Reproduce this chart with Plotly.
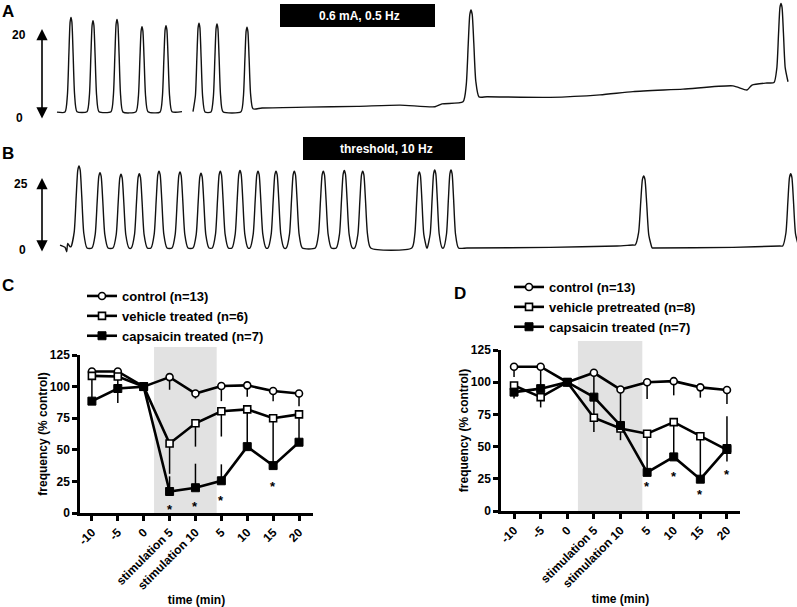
import plotly.graph_objects as go

W, H = 797, 607

# ---------------- panel A: contractions at 0.6 mA, 0.5 Hz ----------------
# time axis in s, force in arbitrary units (scale bar 0-20)
a_peak_t = [14, 36, 60, 85, 109, 142, 160, 190, 414, 724]
a_peak_top = [24.3, 23.5, 23.8, 22.0, 22.3, 22.9, 22.7, 21.9, 26.1, 27.7]
a_peak_pre = [1.2, 1.3, 1.3, 1.3, 1.2, 1.3, 1.2, 1.3, 3.7, 8.4]
a_peak_post = [1.3, 1.3, 1.2, 1.3, 1.3, 1.2, 1.3, 2.0, 4.9, 8.6]
a_peak_hw = [6, 6, 6, 6, 6, 6, 6, 6, 8, 7]
a_base_t = [0, 125, 205, 250, 300, 343, 378, 385, 430, 493, 543, 576, 626, 676, 690, 695, 710]
a_base_v = [1.2, 1.3, 2.2, 2.4, 2.6, 2.9, 2.5, 3.2, 4.95, 4.8, 5.4, 6.2, 6.8, 7.6, 6.6, 7.8, 8.3]
a_gaps = [135]

# ---------------- panel B: threshold, 10 Hz ----------------
b_peak_t = [22, 43, 64, 82.3, 102, 123, 144, 163.3, 183, 201, 219, 237.3, 266.3, 287.3, 305.7,
            362.3, 377.7, 394, 586.7, 733.7]
b_peak_top = [30.6, 28.1, 27.5, 27.7, 28.7, 28.4, 27.9, 28.7, 28.9, 28.7, 28.7, 28.7, 28.7, 28.9, 28.7,
              28.4, 29.1, 29.1, 26.9, 27.7]
b_peak_pre = [0.5, 0, 0, 0, 0, 0, 0, 0, 0, 0, 0, 0, 0, 0, 0, 0, 0, 0, 1.1, 0.75]
b_peak_post = [0, 0, 0, 0, 0, 0, 0, 0, 0, 0, 0, 0, 0, 0, 0, 0, 0, 0, 0, 0.5]
b_peak_hw = [8] * 15 + [7.5, 7.5, 7.5, 8.5, 8]
b_base_t = [3, 8, 9.7, 10.7, 13, 410, 493, 560, 576, 596, 676, 723]
b_base_v = [1.1, 0.25, -1.4, 1.75, 0.5, 0, 0.25, 0.75, 1.1, 0, 0.25, 0.75]
b_gaps = []

# ---------------- panels C / D: frequency (% control) ----------------
time_labels = ["-10", "-5", "0", "stimulation 5", "stimulation 10", "5", "10", "15", "20"]
stim_start, stim_end = 2.4, 4.82

c_ctrl = [112, 112, 100, 107.5, 94.5, 100.5, 101, 96.5, 94.5]
c_ctrl_lo = [4, 3, 0, 10, 4, 12, 9, 8, 10]
c_veh = [108.5, 108, 100, 55, 71, 80.5, 82, 75, 78]
c_veh_lo = [20, 21, 0, 24, 18.5, 20, 30, 37, 22]
c_cap = [88.5, 98.5, 100, 17, 20, 25.5, 52.5, 37.5, 56]
c_cap_hi = [0, 0, 0, 12, 19, 13, 0, 0, 0]
c_sig = [3, 4, 5, 7]
c_sig_y = [5.5, 7.9, 11.9, 23.7]

d_ctrl = [112, 112, 100, 107.3, 94.3, 100, 100.8, 96, 94]
d_ctrl_lo = [8, 17, 0, 35, 30, 13, 11, 8, 11]
d_veh = [97.4, 88.4, 100, 72.4, 64, 60, 69, 58, 47.5]
d_veh_lo = [10, 8, 0, 11, 9, 29, 27, 33, 9]
d_cap = [92.3, 95, 100, 88.4, 66.4, 30, 42, 24.7, 48.5]
d_cap_hi = [0, 0, 0, 0, 0, 0, 0, 0, 25]
d_sig = [5, 6, 7, 8]
d_sig_y = [21.7, 29.5, 15.5, 30.3]

c_names = ["control (n=13)", "vehicle treated (n=6)", "capsaicin treated (n=7)"]
d_names = ["control (n=13)", "vehicle pretreated (n=8)", "capsaicin treated (n=7)"]

FONT = "Liberation Sans, Arial, sans-serif"

# peak outline template (relative to half width, fraction of amplitude)
REL = [-1.0, -0.6, -0.35, -0.15, 0, 0.15, 0.35, 0.6, 1.0]
FRAC = [0, 0.18, 0.62, 0.95, 1, 0.95, 0.62, 0.18, 0]


def build_trace(peak_t, peak_top, pre, post, hw, base_t, base_v, gaps):
    pts = list(zip(base_t, base_v))
    for t, top, b0, b1, w in zip(peak_t, peak_top, pre, post, hw):
        for r, f in zip(REL, FRAC):
            base = b0 if r <= 0 else b1
            pts.append((t + r * w, base + f * (top - base)))
    pts.sort()
    xs, ys = [], []
    gaps = sorted(gaps)
    for t, v in pts:
        while gaps and t > gaps[0]:
            xs.append(None)
            ys.append(None)
            gaps.pop(0)
        xs.append(t)
        ys.append(v)
    return xs, ys


fig = go.Figure()

ax_, ay_ = build_trace(a_peak_t, a_peak_top, a_peak_pre, a_peak_post, a_peak_hw, a_base_t, a_base_v, a_gaps)
bx_, by_ = build_trace(b_peak_t, b_peak_top, b_peak_pre, b_peak_post, b_peak_hw, b_base_t, b_base_v, b_gaps)

rec_line = dict(color="#111111", width=1.4, shape="spline", smoothing=0.6)
fig.add_trace(go.Scatter(x=ax_, y=ay_, mode="lines", line=rec_line, xaxis="x", yaxis="y",
                         showlegend=False, hoverinfo="skip", cliponaxis=False))
fig.add_trace(go.Scatter(x=bx_, y=by_, mode="lines", line=rec_line, xaxis="x2", yaxis="y2",
                         showlegend=False, hoverinfo="skip", cliponaxis=False))

cats = list(range(len(time_labels)))
styles = [
    dict(symbol="circle", size=7, color="white", line=dict(color="black", width=1.6)),
    dict(symbol="square", size=7, color="white", line=dict(color="black", width=1.6)),
    dict(symbol="square", size=8, color="black", line=dict(color="black", width=1)),
]


def add_panel(names, series, xa, ya, leg):
    for name, (vals, plus, minus), mk in zip(names, series, styles):
        fig.add_trace(go.Scatter(
            x=cats, y=vals, mode="lines+markers", name=name,
            line=dict(color="black", width=2.6), marker=mk,
            error_y=dict(type="data", symmetric=False, array=plus, arrayminus=minus,
                         color="black", thickness=1.5, width=0),
            xaxis=xa, yaxis=ya, legend=leg, cliponaxis=False,
        ))


zeros = [0] * len(cats)
add_panel(c_names, [(c_ctrl, zeros, c_ctrl_lo), (c_veh, zeros, c_veh_lo), (c_cap, c_cap_hi, zeros)],
          "x3", "y3", "legend")
add_panel(d_names, [(d_ctrl, zeros, d_ctrl_lo), (d_veh, zeros, d_veh_lo), (d_cap, d_cap_hi, zeros)],
          "x4", "y4", "legend2")


def px_x(p):
    return p / W


def px_y(p):
    return 1 - p / H


hidden = dict(visible=False, showgrid=False, zeroline=False, fixedrange=True, automargin=False)
t_range = [-57, 740]

cat_axis = dict(
    tickmode="array", tickvals=cats, ticktext=time_labels, tickangle=-45,
    ticks="outside", ticklen=5, tickwidth=2.5, tickcolor="black",
    showline=True, linewidth=2.5, linecolor="black", showgrid=False, zeroline=False,
    automargin=False, tickfont=dict(size=12),
    title=dict(text="time (min)", font=dict(size=12), standoff=6),
)
freq_axis = dict(
    range=[0, 125], dtick=25, tick0=0,
    ticks="outside", ticklen=5, tickwidth=2.5, tickcolor="black",
    showline=True, linewidth=2.5, linecolor="black", showgrid=False, zeroline=False,
    automargin=False, tickfont=dict(size=12),
    title=dict(text="frequency (% control)", font=dict(size=12), standoff=0),
)

fig.update_layout(
    width=W, height=H, margin=dict(l=0, r=0, t=0, b=0, pad=0, autoexpand=False),
    paper_bgcolor="white", plot_bgcolor="rgba(0,0,0,0)",
    font=dict(family=FONT, color="black", size=12, weight="bold"),
    xaxis=dict(hidden, domain=[0, 1], range=t_range, anchor="y"),
    yaxis=dict(hidden, domain=[px_y(125), 1], range=[-1.95, 28.54], anchor="x"),
    xaxis2=dict(hidden, domain=[0, 1], range=t_range, anchor="y2"),
    yaxis2=dict(hidden, domain=[px_y(262), px_y(135)], range=[-5.22, 42.16], anchor="x2"),
    xaxis3=dict(cat_axis, domain=[px_x(80), px_x(313)], range=[-0.46, 8.54], anchor="y3"),
    yaxis3=dict(freq_axis, domain=[px_y(513), px_y(355)], anchor="x3"),
    xaxis4=dict(cat_axis, domain=[px_x(501), px_x(740)], range=[-0.49, 8.49], anchor="y4"),
    yaxis4=dict(freq_axis, domain=[px_y(511), px_y(350)], anchor="x4"),
    legend=dict(x=px_x(82), y=px_y(281), xanchor="left", yanchor="top",
                font=dict(size=13), bgcolor="rgba(0,0,0,0)", tracegroupgap=0),
    legend2=dict(x=px_x(509), y=px_y(272), xanchor="left", yanchor="top",
                 font=dict(size=13), bgcolor="rgba(0,0,0,0)", tracegroupgap=0),
    showlegend=True,
)

# stimulation shading (below the data)
for xa, y0, y1 in [("x3", px_y(513), px_y(347)), ("x4", px_y(511), px_y(341))]:
    fig.add_shape(type="rect", xref=xa, yref="paper", x0=stim_start, x1=stim_end, y0=y0, y1=y1,
                  fillcolor="#e2e2e2", line=dict(width=0), layer="below")

# stimulation boxes over the recordings
for xa, x0, x1, y0, y1, label in [("x", 223, 378, 4, 27, "0.6 mA, 0.5 Hz"),
                                  ("x2", 246, 408, 137, 160, "threshold, 10 Hz")]:
    fig.add_shape(type="rect", xref=xa, yref="paper", x0=x0, x1=x1, y0=px_y(y1), y1=px_y(y0),
                  fillcolor="black", line=dict(width=0))
    fig.add_annotation(xref=xa, yref="paper", x=(x0 + x1) / 2 + 2, y=px_y((y0 + y1) / 2),
                       xanchor="center", yanchor="middle",
                       text=label, showarrow=False, font=dict(color="white", size=12))

# significance stars
for xa, ya, idx, ys in [("x3", "y3", c_sig, c_sig_y), ("x4", "y4", d_sig, d_sig_y)]:
    for i, yv in zip(idx, ys):
        fig.add_annotation(xref=xa, yref=ya, x=i, y=yv, text="*", showarrow=False,
                           xanchor="center", yanchor="middle", yshift=-3, font=dict(size=13))

# panel letters
for txt, x, y in [("A", 8, 11), ("B", 8, 153), ("C", 8, 285), ("D", 460, 293)]:
    fig.add_annotation(xref="paper", yref="paper", x=px_x(x), y=px_y(y), text=txt,
                       xanchor="center", yanchor="middle", showarrow=False, font=dict(size=17))

# scale labels and double arrows
for txt, x, y in [("20", 19, 35), ("0", 19.5, 118), ("25", 21, 184), ("0", 22.5, 250)]:
    fig.add_annotation(xref="paper", yref="paper", x=px_x(x), y=px_y(y), text=txt,
                       xanchor="center", yanchor="middle", showarrow=False, font=dict(size=12))
for top, bot in [(29, 120), (178, 253)]:
    fig.add_annotation(xref="paper", yref="paper", x=px_x(42), y=px_y(top), text="",
                       ax=0, ay=bot - top, showarrow=True, arrowhead=2, startarrowhead=2,
                       arrowside="end+start", arrowsize=1.4, arrowwidth=1.6, arrowcolor="black",
                       standoff=0, startstandoff=0)

# the page body has a default 8px margin; drop it so the figure fills the window
fig.write_html("out.html", config={"displayModeBar": False},
               post_script="document.body.style.margin = '0';")
